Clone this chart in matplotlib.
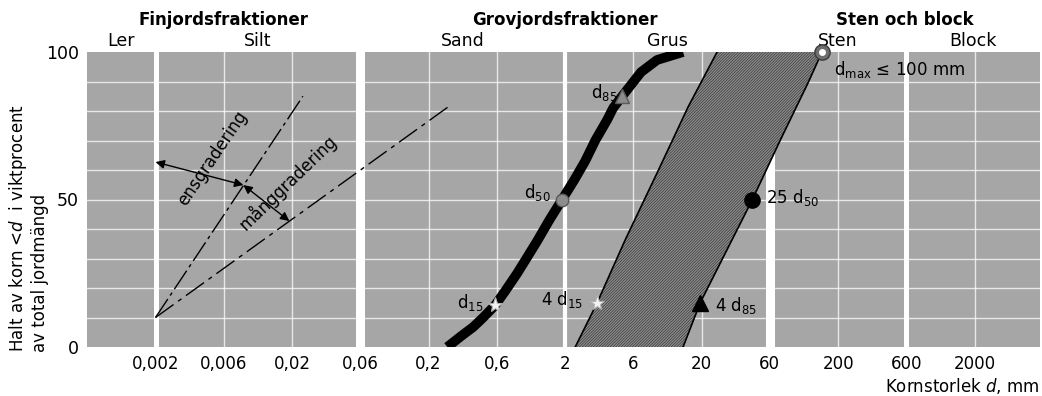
import matplotlib
matplotlib.use("Agg")
import matplotlib.pyplot as plt
import matplotlib.transforms as mtransforms
import numpy as np

# ---------------- data ----------------
x_limits = [0.00063, 6000]
tick_values = [0.002, 0.0063, 0.02, 0.063, 0.2, 0.63, 2, 6.3, 20, 63, 200, 630, 2000]
tick_labels = ["0,002", "0,006", "0,02", "0,06", "0,2", "0,6", "2", "6", "20", "60", "200", "600", "2000"]
y_ticks = [0, 50, 100]
y_grid = [10, 20, 30, 40, 50, 60, 70, 80, 90]

fraction_bounds = [0.002, 0.063, 2, 63, 630]          # white separators
minor_bounds = [0.0063, 0.02, 0.2, 0.63, 6.3, 20, 200, 2000]

sub_names = ["Ler", "Silt", "Sand", "Grus", "Sten", "Block"]
sub_edges = [0.00063, 0.002, 0.063, 2, 63, 630, 6000]
group_names = ["Finjordsfraktioner", "Grovjordsfraktioner", "Sten och block"]
group_edges = [0.00063, 0.063, 63, 6000]

# grading curve (grain size mm, % passing)
curve_d = [0.274, 0.353, 0.425, 0.502, 0.615, 0.728, 0.891, 1.04, 1.25, 1.53, 1.90,
           2.33, 2.80, 3.32, 4.06, 4.49, 5.22, 7.19, 9.42, 14.6]
curve_pct = [0, 4, 6.8, 10, 14.2, 19, 25, 30, 36, 43, 50,
             56.6, 63, 70, 77, 81, 85, 93.2, 97.3, 100]

# filter band
filter_left_d = [2.37, 3.43, 5.50, 9.42, 15.9, 25.9]
filter_left_pct = [0, 15, 36.3, 59, 81.4, 100]
filter_right_d = [14.6, 19.5, 47, 75, 120, 152]
filter_right_pct = [0, 15, 50, 70, 89.5, 100]

# grading illustration lines
uniform_d = [0.002, 0.024]
uniform_pct = [10, 85]
wellgraded_d = [0.002, 0.29]
wellgraded_pct = [10, 82]
arrow_a = [(0.002, 62.7), (0.0088, 54.9)]
arrow_b = [(0.0088, 54.9), (0.0191, 42.7)]

# characteristic points
pts = {
    "d15": (0.615, 14.2),
    "d50": (1.9, 50),
    "d85": (5.22, 85),
    "4d15": (3.43, 15),
    "4d85": (19.5, 15),
    "25d50": (47, 50),
    "dmax": (152, 100),
}

# ---------------- figure ----------------
plt.rcParams["font.family"] = ["DejaVu Sans"]
plt.rcParams["mathtext.fontset"] = "dejavusans"
plt.rcParams["hatch.linewidth"] = 1.0

W, H = 1042, 396
fig = plt.figure(figsize=(W / 100, H / 100), dpi=100)
fig.patch.set_facecolor("white")
ax = fig.add_axes([87 / W, 49 / H, 953 / W, 295 / H])
ax.set_xscale("log")
ax.set_xlim(*x_limits)
ax.set_ylim(0, 100)
ax.set_facecolor("#a6a6a6")
for s in ax.spines.values():
    s.set_visible(False)

ax.minorticks_off()
ax.set_xticks(tick_values)
ax.set_xticklabels(tick_labels, fontsize=12)
ax.set_yticks(y_ticks)
ax.set_yticklabels([str(v) for v in y_ticks], fontsize=12.5)
ax.tick_params(axis="x", length=0, pad=6)
ax.tick_params(axis="y", length=0, pad=6)

# grid
for yv in y_grid:
    ax.axhline(yv, color="white", lw=1.0, alpha=0.75, zorder=1)
for xv in minor_bounds:
    ax.axvline(xv, color="white", lw=1.0, alpha=0.75, zorder=1)
band_w = [3.6, 6.5, 3.0, 6.5, 3.6]
for xv, w in zip(fraction_bounds, band_w):
    ax.axvline(xv, color="white", lw=w, zorder=2)

# filter band (hatched)
poly_x = list(filter_left_d) + list(filter_right_d[::-1])
poly_y = list(filter_left_pct) + list(filter_right_pct[::-1])
ax.fill(poly_x, poly_y, facecolor="#2c2c2c", edgecolor="#8a8a8a", hatch="/" * 12, lw=0, zorder=3)
ax.plot(filter_left_d, filter_left_pct, color="black", lw=1.2, zorder=3.5)
ax.plot(filter_right_d, filter_right_pct, color="black", lw=1.2, zorder=3.5)

# grading curve
ax.plot(curve_d, curve_pct, color="black", lw=7, solid_joinstyle="round", solid_capstyle="butt", zorder=4)

# grading illustration lines
ax.plot(uniform_d, uniform_pct, color="black", lw=1.0, linestyle=(0, (16, 3, 2.5, 3)), zorder=3)
ax.plot(wellgraded_d, wellgraded_pct, color="black", lw=1.0, linestyle=(0, (16, 4, 3, 4)), zorder=3)
for (p0, p1) in (arrow_a, arrow_b):
    ax.annotate("", xy=p1, xytext=p0,
                arrowprops=dict(arrowstyle="<|-|>", color="black", lw=1.0,
                                mutation_scale=13, shrinkA=0, shrinkB=0), zorder=5)
ax.text(0.00523, 64, "ensgradering", rotation=56, ha="center", va="center",
        fontsize=12, rotation_mode="anchor", zorder=6)
ax.text(0.0185, 56, "månggradering", rotation=44, ha="center", va="center",
        fontsize=12, rotation_mode="anchor", zorder=6)

# markers
def mk(key, **kw):
    x, y = pts[key]
    ax.plot([x], [y], linestyle="none", zorder=5, clip_on=False, **kw)

mk("d15", marker="*", ms=11, mfc="#f2f2f2", mec="#b0b0b0", mew=0.8)
mk("4d15", marker="*", ms=11, mfc="#f2f2f2", mec="#b0b0b0", mew=0.8)
mk("d50", marker="o", ms=9, mfc="#8c8c8c", mec="#5a5a5a", mew=1)
mk("d85", marker="^", ms=10, mfc="#8c8c8c", mec="#5a5a5a", mew=1)
mk("4d85", marker="^", ms=11, mfc="black", mec="black")
mk("25d50", marker="o", ms=11, mfc="black", mec="black")
mk("dmax", marker="o", ms=11, mfc="#6e6e6e", mec="#3a3a3a", mew=1)
mk("dmax", marker="o", ms=4, mfc="white", mec="white")

def lab(key, text, dx, dy, ha):
    ax.annotate(text, xy=pts[key], xytext=(dx, dy), textcoords="offset pixels",
                ha=ha, va="center", fontsize=12, zorder=6, annotation_clip=False)

lab("d15", "d$_{15}$", -12, 3, "right")
lab("4d15", "4 d$_{15}$", -14, 3, "right")
lab("d50", "d$_{50}$", -11, 7, "right")
lab("d85", "d$_{85}$", -5, 4, "right")
lab("25d50", "25 d$_{50}$", 14, 2, "left")
lab("4d85", "4 d$_{85}$", 15, -3, "left")
lab("dmax", "d$_{\\mathrm{max}}$ ≤ 100 mm", 12, -17, "left")

# fraction headers
trans = mtransforms.blended_transform_factory(ax.transData, fig.transFigure)
for name, a, b in zip(sub_names, sub_edges[:-1], sub_edges[1:]):
    ax.text(np.sqrt(a * b), 1 - 41 / H, name, transform=trans, ha="center", va="center", fontsize=12.5)
for name, a, b in zip(group_names, group_edges[:-1], group_edges[1:]):
    ax.text(np.sqrt(a * b), 1 - 20 / H, name, transform=trans, ha="center", va="center",
            fontsize=12, fontweight="bold")

# axis labels
fig.text(18 / W, 44 / H, "Halt av korn <$d$  i viktprocent", rotation=90, ha="center", va="bottom", fontsize=12)
fig.text(40 / W, 44 / H, "av total jordmängd", rotation=90, ha="center", va="bottom", fontsize=12)
fig.text(1040 / W, 1 - 386 / H, "Kornstorlek $d$, mm", ha="right", va="center", fontsize=12)

fig.savefig("out.png", dpi=100, facecolor="white")
